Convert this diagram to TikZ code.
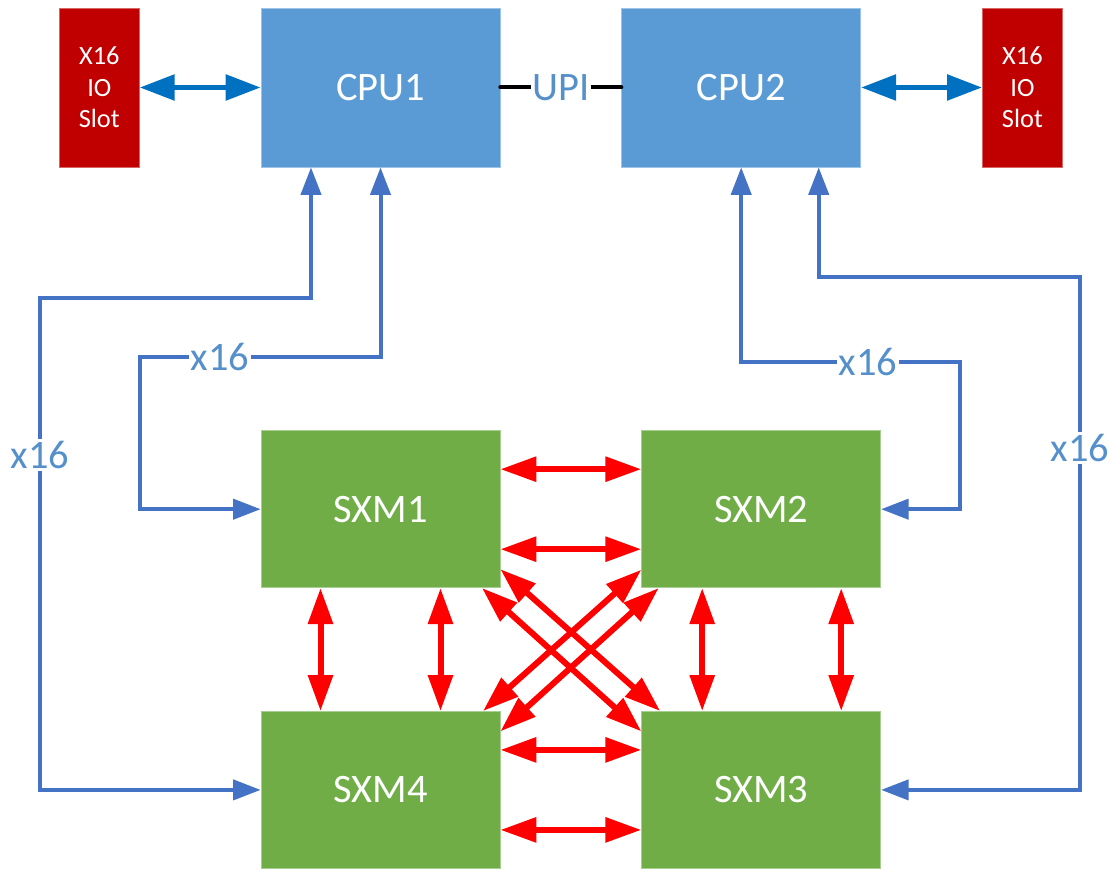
\documentclass[tikz,border=0pt]{standalone}
\usepackage{fontspec}
\setmainfont{Carlito}
\usepackage{xcolor}
\usetikzlibrary{positioning, arrows.meta}
\definecolor{cpublue}{HTML}{5B9BD5}
\definecolor{sxmgreen}{HTML}{70AD47}
\definecolor{slotred}{HTML}{C00000}
\definecolor{linkblue}{HTML}{4472C4}
\definecolor{ioblue}{HTML}{0070C0}
\definecolor{nvred}{HTML}{FF0000}
\definecolor{lblblue}{HTML}{5590CB}
\tikzset{
  cpubox/.style={rectangle, draw=cpublue!60!white, fill=cpublue, text=white,
                 minimum width=4.78cm, minimum height=3.18cm,
                 font=\fontsize{23}{28}\selectfont},
  slotbox/.style={rectangle, draw=slotred!60!white, fill=slotred, text=white,
                  minimum width=1.6cm, minimum height=3.18cm,
                  align=center, font=\fontsize{15}{18}\selectfont},
  sxmbox/.style={rectangle, draw=sxmgreen!60!white, fill=sxmgreen, text=white,
                 minimum width=4.78cm, minimum height=3.14cm,
                 font=\fontsize{23}{28}\selectfont},
  ioarr/.style={{Triangle[length=0.7cm, width=0.5cm]}-{Triangle[length=0.7cm, width=0.5cm]},
                line width=0.11cm, draw=ioblue},
  nvarr/.style={{Triangle[length=0.72cm, width=0.48cm]}-{Triangle[length=0.72cm, width=0.48cm]},
                line width=0.12cm, draw=nvred},
  pciearr/.style={{Triangle[length=0.55cm, width=0.4cm]}-{Triangle[length=0.55cm, width=0.4cm]},
                  line width=0.08cm, draw=linkblue},
  upiline/.style={line width=0.08cm, line cap=round, draw=black},
  lanelbl/.style={fill=white, text=lblblue, inner sep=1pt,
                  font=\fontsize{23}{28}\selectfont},
}
\begin{document}
\begin{tikzpicture}
  \useasboundingbox (0,0) rectangle (22.34,-17.42);

  %% CPUs and IO slots
  \node[cpubox] (cpu1) at (7.61,-1.75) {CPU1};
  \node[slotbox, left=2.42cm of cpu1] (slot1) {X16\\IO\\Slot};
  \node[cpubox, right=2.42cm of cpu1] (cpu2) {CPU2};
  \node[slotbox, right=2.42cm of cpu2] (slot2) {X16\\IO\\Slot};

  %% SXM modules
  \node[sxmbox, below=5.26cm of cpu1] (sxm1) {SXM1};
  \node[sxmbox, right=2.82cm of sxm1] (sxm2) {SXM2};
  \node[sxmbox, below=2.46cm of sxm1] (sxm4) {SXM4};
  \node[sxmbox, right=2.82cm of sxm4] (sxm3) {SXM3};

  %% IO links and UPI
  \draw[ioarr] (slot1.east) -- (cpu1.west);
  \draw[ioarr] (cpu2.east) -- (slot2.west);
  \draw[upiline] (cpu1.east) -- node[lanelbl] (upi) {UPI} (cpu2.west);

  %% PCIe x16 routes
  \coordinate (lout) at (0.8,-5.96);
  \coordinate (lin) at (2.8,-7.14);
  \coordinate (rin) at (19.2,-7.24);
  \coordinate (rout) at (21.6,-5.54);
  \draw[pciearr] ([xshift=-1.39cm]cpu1.south) |- (lout) |- (sxm4.west);
  \draw[pciearr] (cpu1.south) |- (lin) |- (sxm1.west);
  \draw[pciearr] (cpu2.south) |- (rin) |- (sxm2.east);
  \draw[pciearr] ([xshift=1.55cm]cpu2.south) |- (rout) |- (sxm3.east);
  \node[lanelbl] (x16a) at (0.8,-9.1) {x16};
  \node[lanelbl] (x16b) at (4.4,-7.14) {x16};
  \node[lanelbl] (x16c) at (17.36,-7.24) {x16};
  \node[lanelbl] (x16d) at (21.6,-8.96) {x16};

  %% NVLink mesh
  \foreach \dy in {0.8,-0.8} {
    \draw[nvarr] ([yshift=\dy cm]sxm1.east) -- ([yshift=\dy cm]sxm2.west);
    \draw[nvarr] ([yshift=\dy cm]sxm4.east) -- ([yshift=\dy cm]sxm3.west);
  }
  \draw[nvarr] ([xshift=-1.2cm]sxm1.south) -- ([xshift=-1.2cm]sxm4.north);
  \draw[nvarr] ([xshift=1.2cm]sxm1.south) -- ([xshift=1.2cm]sxm4.north);
  \draw[nvarr] ([xshift=-1.18cm]sxm2.south) -- ([xshift=-1.18cm]sxm3.north);
  \draw[nvarr] ([xshift=1.6cm]sxm2.south) -- ([xshift=1.6cm]sxm3.north);
  \draw[nvarr] ([yshift=-1.2cm]sxm1.east) -- ([xshift=-2.02cm]sxm3.north);
  \draw[nvarr] ([xshift=2.03cm]sxm1.south) -- ([yshift=1.17cm]sxm3.west);
  \draw[nvarr] ([yshift=-1.21cm]sxm2.west) -- ([xshift=2.05cm]sxm4.north);
  \draw[nvarr] ([xshift=-2.05cm]sxm2.south) -- ([yshift=1.17cm]sxm4.east);

\end{tikzpicture}
\end{document}
